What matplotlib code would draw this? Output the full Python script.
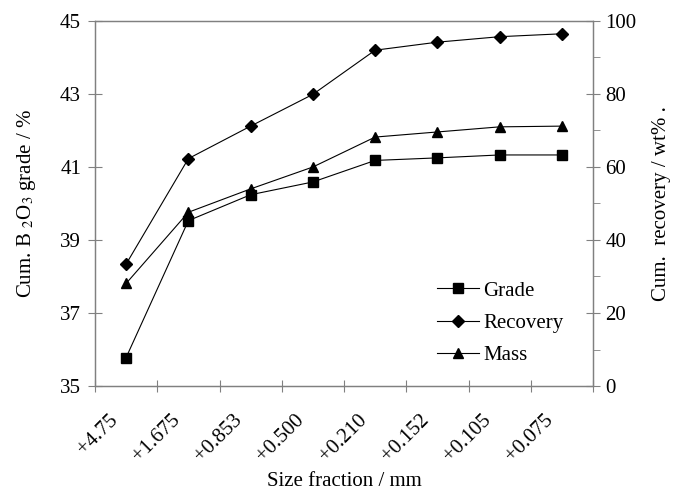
import matplotlib
matplotlib.use("Agg")
import matplotlib.pyplot as plt
from matplotlib.transforms import ScaledTranslation
import numpy as np

categories = ["+4.75", "+1.675", "+0.853", "+0.500", "+0.210", "+0.152", "+0.105", "+0.075"]
grade = [35.78, 39.53, 40.24, 40.59, 41.18, 41.25, 41.33, 41.33]
recovery = [33.4, 62.3, 71.2, 79.9, 92.0, 94.2, 95.7, 96.5]
mass = [28.1, 47.6, 54.0, 60.0, 68.2, 69.6, 71.0, 71.2]

plt.rcParams['font.family'] = ['Liberation Serif', 'DejaVu Serif']
plt.rcParams['mathtext.fontset'] = 'stix'
fs = 15
gray = '#808080'

fig = plt.figure(figsize=(6.74, 4.92), dpi=100)
ax = fig.add_axes([95/674, 1-386/492, (593-95)/674, (386-21)/492])
ax2 = ax.twinx()

x = np.arange(len(categories))
lkw = dict(color='black', lw=0.8, markersize=7.5)
l1, = ax.plot(x, grade, marker='s', **lkw)
l2, = ax2.plot(x, recovery, marker='D', markersize=6.5, color='black', lw=0.8)
l3, = ax2.plot(x, mass, marker='^', **lkw)

ax.set_xlim(-0.5, len(categories) - 0.5)
ax.set_ylim(35, 45)
ax.set_yticks(np.arange(35, 46, 2))
ax2.set_ylim(0, 100)
ax2.set_yticks(np.arange(0, 101, 20))
ax2.set_yticks(np.arange(10, 100, 20), minor=True)

ax.set_xticks(np.arange(-0.5, len(categories), 1.0))
ax.set_xticklabels([])
ax.set_xticks(x, minor=True)
ax.tick_params(axis='x', which='minor', length=0, pad=18)
ax.tick_params(axis='x', which='major', direction='inout', length=9, color=gray)
ax.tick_params(axis='y', which='major', direction='inout', length=10, color=gray, labelsize=fs, pad=5)
ax2.tick_params(axis='y', which='major', direction='inout', length=10, color=gray, labelsize=fs, pad=4)
ax2.tick_params(axis='y', which='minor', direction='out', length=5, color=gray)
ax.set_xticklabels(categories, minor=True, rotation=45, ha='right', rotation_mode='anchor', fontsize=15)
off = ScaledTranslation(-18/100, 0, fig.dpi_scale_trans)
for lab in ax.get_xticklabels(minor=True):
    lab.set_transform(lab.get_transform() + off)

for a in (ax, ax2):
    for s in a.spines.values():
        s.set_color(gray)
        s.set_linewidth(0.9)

ax.set_ylabel("Cum. B $_2$O$_3$ grade / %", fontsize=fs, labelpad=16)
ax2.set_ylabel("Cum.  recovery / wt% .", fontsize=fs, labelpad=11)
ax.set_xlabel("Size fraction / mm", fontsize=fs)
ax.xaxis.set_label_coords(0.5, -0.236)

leg = ax.legend([l1, l2, l3], ["Grade", "Recovery", "Mass"], frameon=False, fontsize=fs,
                loc='upper left', bbox_to_anchor=(0.671, 0.31), handlelength=2.0,
                handletextpad=0.2, labelspacing=0.6, borderaxespad=0)

fig.savefig("out.png", dpi=100)
